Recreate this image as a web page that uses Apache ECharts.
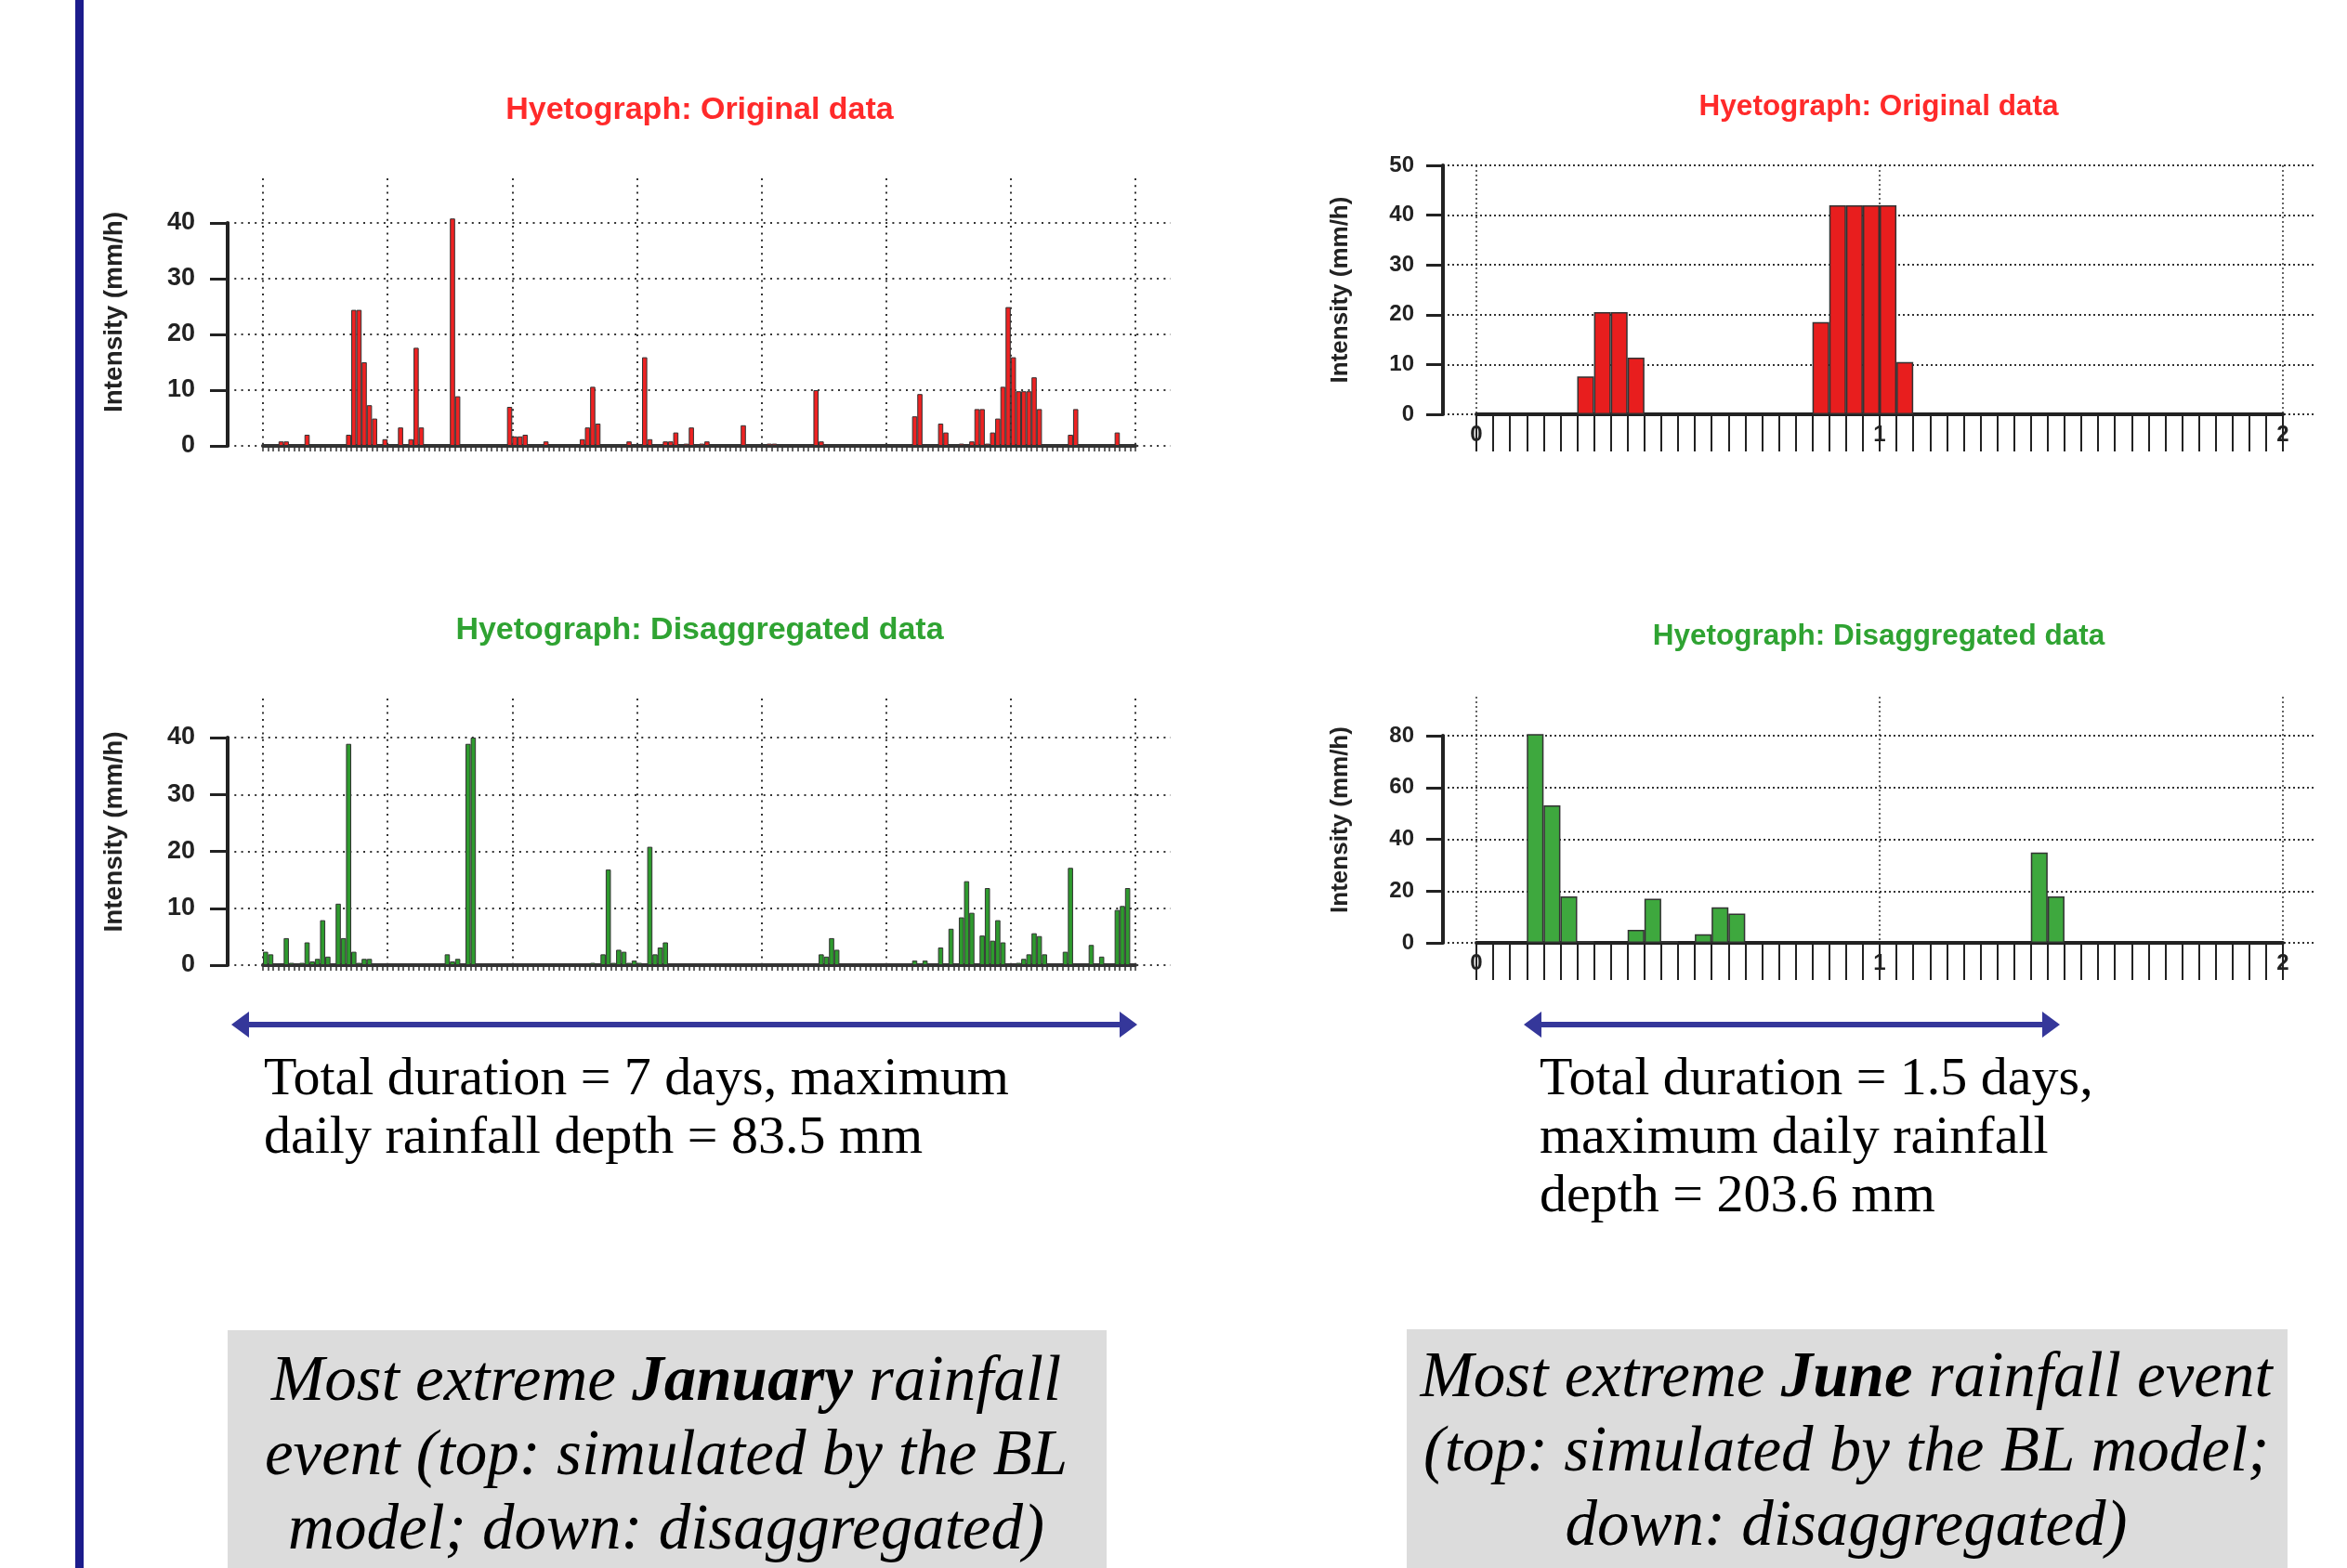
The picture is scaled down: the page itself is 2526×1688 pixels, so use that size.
<!DOCTYPE html>
<html>
<head>
<meta charset="utf-8">
<script src="https://cdn.jsdelivr.net/npm/echarts@6/dist/echarts.min.js"></script>
<style>
html,body{margin:0;padding:0;background:#fff;}
#c{width:2526px;height:1688px;}
</style>
</head>
<body>
<div id="c"></div>
<script>
// ---------- DATA (hourly intensities, mm/h) ----------
// January event, 7 days = 168 hours
const janOriginal = [
  0,0,0,0.8,0.8,0,0,0,2.0,0,0,0,0,0,0,0,2.0,24.4,24.4,15.0,7.3,4.9,0,1.2,
  0,0,3.3,0,1.2,17.6,3.3,0,0,0,0,0,40.8,8.9,0,0,0,0,0,0,0,0,0,7.0,
  1.7,1.7,2.0,0,0,0,0.8,0,0,0,0,0,0,1.2,3.3,10.6,4.0,0,0,0,0,0,0.8,0,
  0,15.9,1.2,0,0,0.8,0.8,2.4,0,0.4,3.3,0,0.4,0.8,0,0,0,0,0,0,3.7,0,0,0,
  0,0.4,0.4,0,0,0,0,0,0,0,10.0,0.8,0,0,0,0,0,0,0,0,0,0,0,0,
  0,0,0,0,0,5.3,9.3,0,0,0,4.0,2.4,0,0,0.4,0,0.8,6.6,6.6,0.4,2.4,4.9,10.6,24.9,
  15.9,9.8,9.8,9.8,12.3,6.6,0,0,0,0,0,2.0,6.6,0,0,0,0,0,0,0,2.4,0,0,0
];
const janDisagg = [
  2.35,1.9,0,0,4.75,0.4,0,0.4,4.0,0.65,1.1,7.9,1.5,0,10.8,4.75,38.9,2.35,0.4,1.1,1.1,0,0,0,
  0,0,0,0,0,0,0,0,0,0,0,1.9,0.65,1.1,0,38.9,40,0,0,0,0,0,0,0,
  0,0,0,0,0,0,0,0,0,0,0,0,0,0,0,0.4,0,1.9,16.8,0.4,2.7,2.35,0.4,0.8,
  0.4,0,20.8,1.9,3.1,4.0,0,0,0,0,0,0,0,0,0,0,0,0,0,0,0,0,0,0,
  0,0,0,0,0,0,0,0,0,0,0,1.9,1.5,4.75,2.7,0,0,0,0,0,0,0,0,0,
  0,0,0,0,0,0.8,0,0.8,0,0,3.1,0,6.4,0,8.4,14.75,9.2,0,5.2,13.55,4.3,7.9,4.0,0,
  0,0.4,1.1,1.9,5.6,5.1,1.9,0,0,0,2.35,17.1,0,0,0,3.55,0,1.5,0,0,9.7,10.4,13.55,0
];
// June event, 2 days shown = 48 hours
const juneOriginal = [
  0,0,0,0,0,0,7.6,20.5,20.5,11.4,0,0,0,0,0,0,0,0,0,0,18.5,42,42,42,
  42,10.5,0,0,0,0,0,0,0,0,0,0,0,0,0,0,0,0,0,0,0,0,0,0
];
const juneDisagg = [
  0,0,0,80.6,53.1,17.9,0.7,0,0,5.0,17.0,0.7,0,3.3,13.7,11.3,0,0,0,0,0,0,0,0,
  0,0,0,0,0,0,0,0,0,34.9,17.9,0,0,0,0,0,0,0,0,0,0,0,0,0
];
const dayTickLabels = ['0','1','2'];
const chartTitles = ['Hyetograph: Original data','Hyetograph: Disaggregated data'];
const yName = 'Intensity (mm/h)';

// ---------- helpers ----------
const SANS = '"Liberation Sans", Arial, sans-serif';
const SERIF = '"Liberation Serif", "Times New Roman", serif';
function toPairs(arr){
  const out = [];
  arr.forEach((v,i)=>{ if(v>0) out.push([i+0.5, v]); });
  return out;
}
function frameX(gi){ return {gridIndex:gi, type:'value', min:0, max:1, show:false}; }
function frameY(gi, max, interval, fs, tickLen, margin, dot){
  return {
    gridIndex:gi, type:'value', min:0, max:max, interval:interval,
    axisLine:{show:true, lineStyle:{color:'#222', width:4}},
    axisTick:{show:true, length:tickLen, lineStyle:{color:'#222', width:3}},
    axisLabel:{show:true, margin:margin, color:'#222', fontFamily:SANS, fontWeight:'bold', fontSize:fs},
    splitLine:{show:true, lineStyle:{color:'#333', width:2, type:dot}}
  };
}
function barY(gi, max, offset, gap, fs){
  return {
    gridIndex:gi, type:'value', min:0, max:max, offset:offset,
    axisLine:{show:false}, axisTick:{show:false}, axisLabel:{show:false}, splitLine:{show:false},
    name:yName, nameLocation:'middle', nameGap:gap,
    nameTextStyle:{color:'#222', fontFamily:SANS, fontWeight:'bold', fontSize:fs}
  };
}
function barXLeft(gi){
  return {
    gridIndex:gi, type:'value', min:0, max:168, interval:24,
    axisLine:{show:true, onZero:false, lineStyle:{color:'#333', width:4}},
    axisTick:{show:true, length:6, lineStyle:{color:'#333', width:1.5}},
    minorTick:{show:true, splitNumber:24, length:6, lineStyle:{color:'#333', width:1.5}},
    axisLabel:{show:false},
    splitLine:{show:true, lineStyle:{color:'#333', width:2, type:[2,5.3]}}
  };
}
function barXRight(gi){
  return {
    gridIndex:gi, type:'value', min:0, max:48, interval:24,
    axisLine:{show:true, onZero:false, lineStyle:{color:'#222', width:4}},
    axisTick:{show:true, length:40, lineStyle:{color:'#222', width:2}},
    minorTick:{show:true, splitNumber:24, length:40, lineStyle:{color:'#222', width:2}},
    axisLabel:{show:true, margin:10, color:'#222', fontFamily:SANS, fontWeight:'bold', fontSize:24,
      formatter:function(v){ return dayTickLabels[Math.round(v/24)]; }},
    splitLine:{show:true, lineStyle:{color:'#333', width:1.5, type:[2,3]}}
  };
}
function barSeries(gi, data, width, color, bw){
  return {
    type:'bar', xAxisIndex:gi, yAxisIndex:gi, data:toPairs(data), barWidth:width,
    itemStyle:{color:color, borderColor:'#333', borderWidth:bw},
    silent:true, animation:false
  };
}

const chart = echarts.init(document.getElementById('c'), null, {renderer:'canvas'});
const gridBase = {containLabel:false, outerBoundsMode:'none'};
const richBox = {
  i:{fontFamily:SERIF, fontStyle:'italic', fontSize:69, lineHeight:80, fill:'#000'},
  b:{fontFamily:SERIF, fontStyle:'italic', fontWeight:'bold', fontSize:69, lineHeight:80, fill:'#000'}
};
const option = {
  backgroundColor:'#ffffff',
  animation:false,
  title:[
    {text:chartTitles[0], left:748, top:97, textAlign:'center',
     textStyle:{color:'#ff2a2a', fontFamily:SANS, fontWeight:'bold', fontSize:34}},
    {text:chartTitles[1], left:748, top:657, textAlign:'center',
     textStyle:{color:'#2fa332', fontFamily:SANS, fontWeight:'bold', fontSize:34}},
    {text:chartTitles[0], left:2017, top:94, textAlign:'center',
     textStyle:{color:'#ff2a2a', fontFamily:SANS, fontWeight:'bold', fontSize:31.5}},
    {text:chartTitles[1], left:2017, top:664, textAlign:'center',
     textStyle:{color:'#2fa332', fontFamily:SANS, fontWeight:'bold', fontSize:31.5}}
  ],
  grid:[
    Object.assign({left:245, top:240, width:1015, height:240}, gridBase),   // 0 TL frame
    Object.assign({left:283, top:192, width:939, height:288}, gridBase),    // 1 TL bars
    Object.assign({left:245, top:794, width:1015, height:245}, gridBase),   // 2 BL frame
    Object.assign({left:283, top:752, width:939, height:287}, gridBase),    // 3 BL bars
    Object.assign({left:1553, top:178, width:938, height:268}, gridBase),   // 4 TR frame
    Object.assign({left:1589, top:178, width:868, height:268}, gridBase),   // 5 TR bars
    Object.assign({left:1553, top:792, width:938, height:223}, gridBase),   // 6 BR frame
    Object.assign({left:1589, top:750, width:868, height:265}, gridBase)    // 7 BR bars
  ],
  xAxis:[
    frameX(0), barXLeft(1), frameX(2), barXLeft(3),
    frameX(4), barXRight(5), frameX(6), barXRight(7)
  ],
  yAxis:[
    frameY(0, 40, 10, 27, 19, 35, [2,5.3]),
    barY(1, 48, 38, 108, 28),
    frameY(2, 40, 10, 27, 19, 35, [2,5.3]),
    barY(3, 40*287/245, 38, 108, 28),
    frameY(4, 50, 10, 24, 18, 31, [2,3]),
    barY(5, 50, 36, 97, 26),
    frameY(6, 80, 20, 24, 18, 31, [2,3]),
    barY(7, 80*265/223, 36, 97, 26)
  ],
  series:[
    barSeries(1, janOriginal, 939/168, '#ee2222', 1),
    barSeries(3, janDisagg, 939/168, '#2e9a2e', 1),
    barSeries(5, juneOriginal, 868/48, '#e81e1e', 1.5),
    barSeries(7, juneDisagg, 868/48, '#3ea83e', 1.5)
  ],
  graphic:[
    {type:'rect', shape:{x:81, y:0, width:9, height:1688}, style:{fill:'#1c1c8c'}},
    // arrows
    {type:'line', shape:{x1:262, y1:1103, x2:1211, y2:1103}, style:{stroke:'#35379a', lineWidth:6}},
    {type:'polygon', shape:{points:[[249,1103],[268,1089],[268,1117]]}, style:{fill:'#35379a'}},
    {type:'polygon', shape:{points:[[1224,1103],[1205,1089],[1205,1117]]}, style:{fill:'#35379a'}},
    {type:'line', shape:{x1:1653, y1:1103, x2:2204, y2:1103}, style:{stroke:'#35379a', lineWidth:6}},
    {type:'polygon', shape:{points:[[1640,1103],[1659,1089],[1659,1117]]}, style:{fill:'#35379a'}},
    {type:'polygon', shape:{points:[[2217,1103],[2198,1089],[2198,1117]]}, style:{fill:'#35379a'}},
    // descriptions
    {type:'text', x:284, y:1131, style:{
      text:'Total duration = 7 days, maximum\ndaily rainfall depth = 83.5 mm',
      fontFamily:SERIF, fontSize:58, fill:'#000', lineHeight:63, align:'left', verticalAlign:'top'}},
    {type:'text', x:1657, y:1131, style:{
      text:'Total duration = 1.5 days,\nmaximum daily rainfall\ndepth = 203.6 mm',
      fontFamily:SERIF, fontSize:58, fill:'#000', lineHeight:63, align:'left', verticalAlign:'top'}},
    // gray boxes
    {type:'rect', shape:{x:245, y:1432, width:946, height:256}, style:{fill:'#dcdcdc'}},
    {type:'rect', shape:{x:1514, y:1431, width:948, height:257}, style:{fill:'#dcdcdc'}},
    {type:'text', x:717, y:1449, z:10, style:{
      text:'{i|Most extreme }{b|January}{i| rainfall}\n{i|event (top: simulated by the BL}\n{i|model; down: disaggregated)}',
      align:'center', verticalAlign:'top', rich:richBox}},
    {type:'text', x:1987, y:1445, z:10, style:{
      text:'{i|Most extreme }{b|June}{i| rainfall event}\n{i|(top: simulated by the BL model;}\n{i|down: disaggregated)}',
      align:'center', verticalAlign:'top', rich:richBox}}
  ]
};
chart.setOption(option);
</script>
</body>
</html>
